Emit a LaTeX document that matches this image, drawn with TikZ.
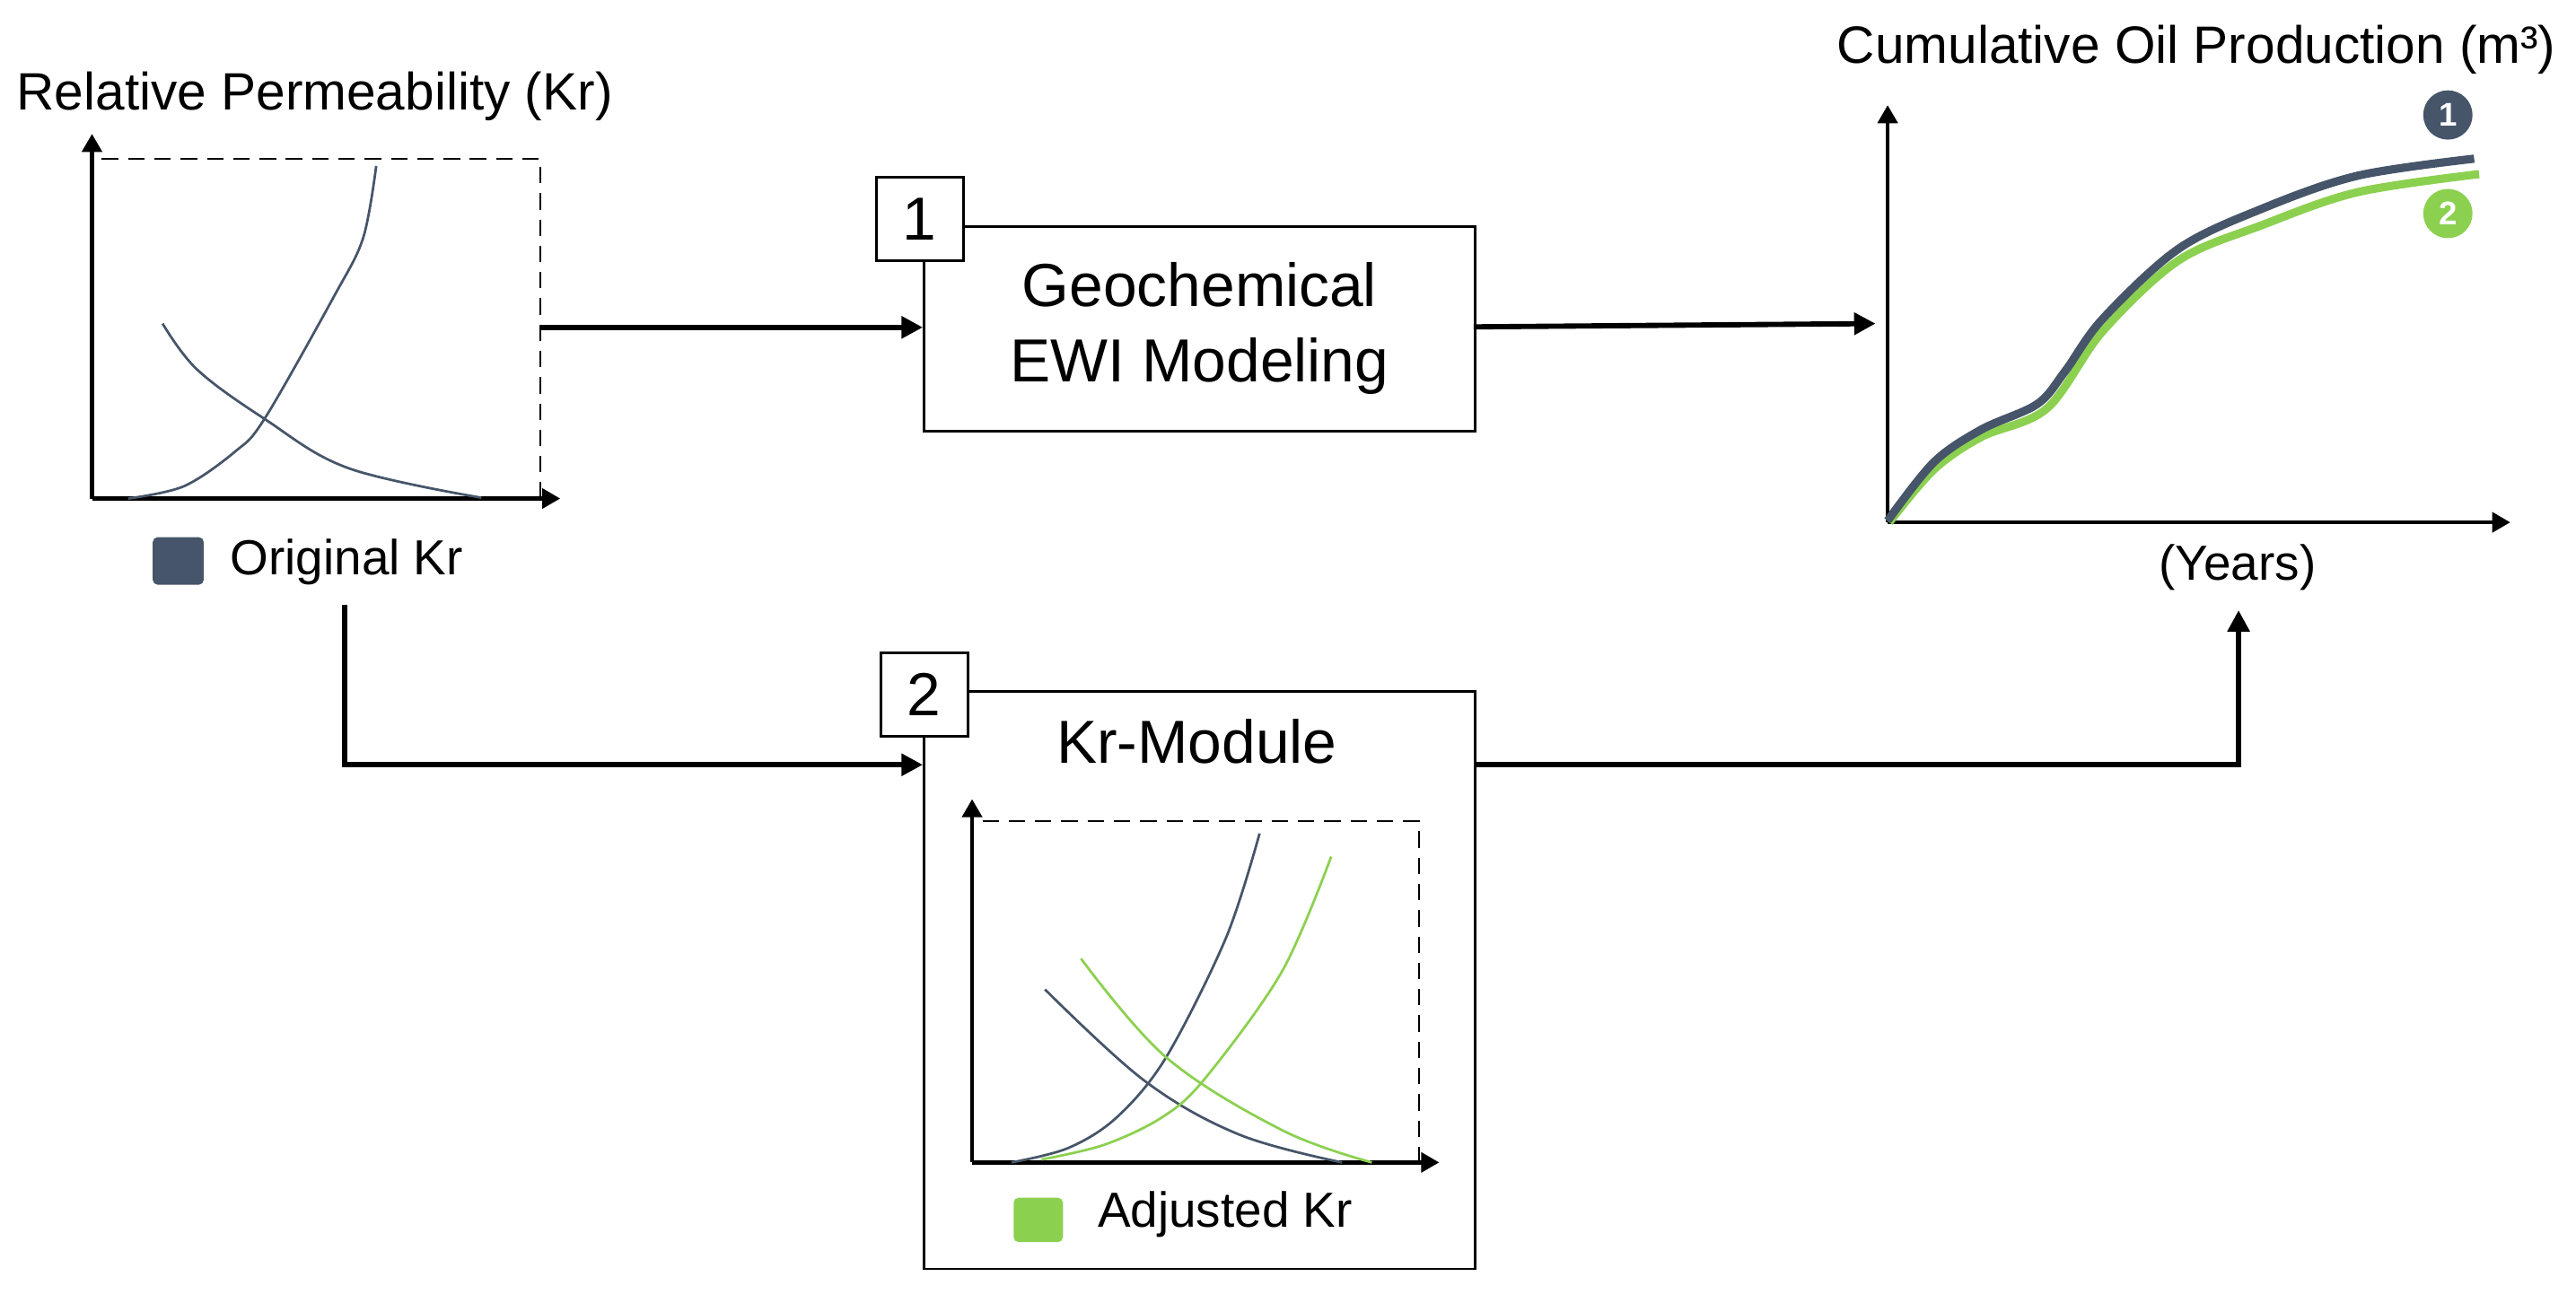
\documentclass[tikz,border=0pt]{standalone}
\usepackage{fontspec}
\setmainfont{Liberation Sans}
\usetikzlibrary{arrows.meta}
\definecolor{dk}{HTML}{465569}
\definecolor{gr}{HTML}{8CD050}
\begin{document}
\begin{tikzpicture}[x=1pt,y=-1pt,
  ax/.style={line width=2.4pt,-{Triangle[length=11pt,width=12pt]}},
  conn/.style={line width=3.2pt,-{Triangle[length=13pt,width=13pt]}},
  dsh/.style={line width=1.3pt,dash pattern=on 10pt off 6pt},
  crv/.style={line width=1.5pt},
  thk/.style={line width=5pt},
  box/.style={draw,line width=1.6pt,fill=white},
  num/.style={draw,line width=1.6pt,fill=white,minimum width=53pt,minimum height=51pt,inner sep=0,font=\fontsize{37}{40}\selectfont},
  ttl/.style={font=\fontsize{32}{36}\selectfont,inner sep=0},
  txt/.style={font=\fontsize{30}{34}\selectfont,inner sep=0},
  btxt/.style={font=\fontsize{37}{45.7}\selectfont,align=center},
  cnum/.style={circle,text=white,inner sep=0,minimum size=30pt,font=\bfseries\fontsize{20}{20}\selectfont}]
\useasboundingbox (0,0) rectangle (1568,793);
% ---------- left chart ----------
\coordinate (lo) at (56,303.5);
\draw[dsh] (62,96.6) -- (329,96.6) -- (329,303.5);
\draw[ax] (lo) -- (56,81.5);
\draw[ax] (lo) -- (341,303.5);
\draw[crv,dk] plot[smooth,tension=0.55] coordinates {(78,303.5) (112,296) (143,275) (161,255) (203,181) (221,145) (229,101)};
\draw[crv,dk] plot[smooth,tension=0.6] coordinates {(99,197) (120,225) (161,255) (212,285) (293,303)};
\node[ttl,anchor=base west] (lt) at (10,66.8) {Relative Permeability (Kr)};
\node[fill=dk,minimum width=31pt,minimum height=29pt,inner sep=0,rounded corners=3pt] (lsq) at (108.5,341.5) {};
\node[txt,anchor=base west] (ll) at (140,350) {Original Kr};
% ---------- box 1 ----------
\node[box,minimum width=335.3pt,minimum height=124.8pt,anchor=north west,btxt] (b1) at (561.7,136.9) {Geochemical\\EWI Modeling};
\node[num] (n1) at (559.9,133.2) {1};
\coordinate (a1) at (329,199.3);
\draw[conn] (a1) -- (b1.west |- a1);
% ---------- right chart ----------
\coordinate (ro) at (1149,318);
\draw[ax] (ro) -- (1149,64);
\draw[ax] (ro) -- (1528,318);
\draw[thk,gr] plot[smooth,tension=0.55] coordinates {(1150,318) (1177,286) (1206,266) (1246,248.6) (1280,201.5) (1326,158.6) (1377,137) (1435,117) (1509,106)};
\draw[thk,dk] plot[smooth,tension=0.55] coordinates {(1149,317) (1177,281.5) (1206,261.5) (1240,246) (1257,226) (1280,194) (1326,151.5) (1377,127) (1435,107) (1506,96.6)};
\node[cnum,fill=dk] (c1) at (1490,70) {1};
\node[cnum,fill=gr] (c2) at (1490,130) {2};
\node[ttl,anchor=base] (rt) at (1337,38.6) {Cumulative Oil Production (m³)};
\node[txt,anchor=base] (yr) at (1362,353) {(Years)};
\coordinate (a2) at (897,199);
\draw[conn] (a2) -- (1141.6,197);
% ---------- box 2 ----------
\node[box,minimum width=335.3pt,minimum height=351.3pt,anchor=north west] (b2) at (561.7,420.4) {};
\node[num] (n2) at (562.5,423) {2};
\node[btxt,anchor=base,inner sep=0] (kt) at (728.4,464.7) {Kr-Module};
\coordinate (io) at (591.7,707.7);
\draw[dsh] (598,500) -- (863.9,500) -- (863.9,707.7);
\draw[ax] (io) -- (591.7,486.5);
\draw[ax] (io) -- (876,707.7);
\draw[crv,dk] plot[smooth,tension=0.55] coordinates {(615.7,707.7) (650,699) (679.7,680.3) (709.8,643.7) (746.4,570.6) (766.7,507.4)};
\draw[crv,dk] plot[smooth,tension=0.6] coordinates {(636.1,602.4) (696.7,658) (754.2,690.7) (816.9,707.7)};
\draw[crv,gr] plot[smooth,tension=0.55] coordinates {(634,705.9) (672,697) (707.2,680.3) (733.3,656.8) (780.3,591.5) (810.3,521.5)};
\draw[crv,gr] plot[smooth,tension=0.6] coordinates {(658,583.6) (709.8,643.7) (780.3,688) (835,707.7)};
\node[fill=gr,minimum width=30pt,minimum height=27pt,inner sep=0,rounded corners=3pt] (gsq) at (632,742.7) {};
\node[txt,anchor=base west] (gl) at (668,746.9) {Adjusted Kr};
% ---------- connectors 2 ----------
\coordinate (s2) at (210,368);
\draw[conn] (s2) |- (b2.west |- 0,465.6);
\coordinate (e2) at (1362.6,371.5);
\draw[conn] (b2.east |- 0,465.6) -| (e2);
\end{tikzpicture}
\end{document}
